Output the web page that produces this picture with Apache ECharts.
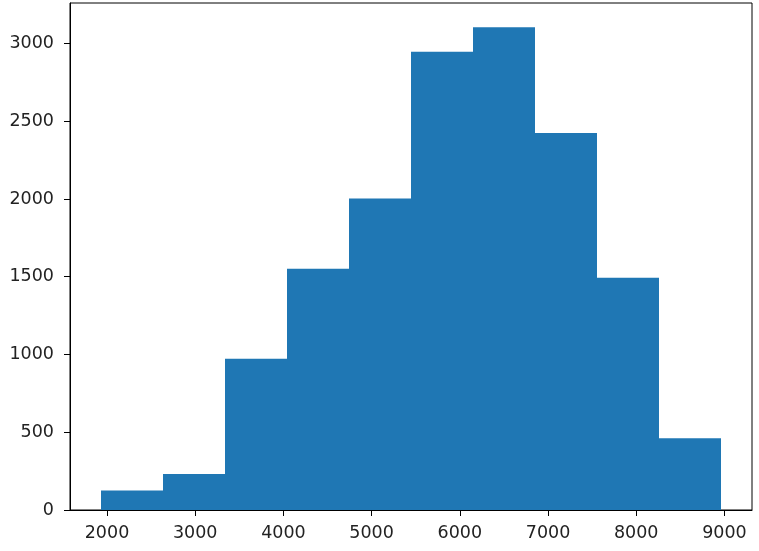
<!DOCTYPE html>
<html>
<head>
<meta charset="utf-8">
<script src="https://cdn.jsdelivr.net/npm/echarts@6/dist/echarts.min.js"></script>
<style>
  html, body { margin: 0; padding: 0; background: #fff; }
  #chart { width: 759px; height: 551px; }
</style>
</head>
<body>
<div id="chart"></div>
<script>
// histogram bin edges (10 bins) and counts
const binEdges = [1932, 2635, 3338, 4041, 4744, 5447, 6150, 6853, 7555, 8258, 8961];
const counts = [125, 232, 972, 1552, 2003, 2946, 3105, 2425, 1494, 462];
const xTicks = [2000, 3000, 4000, 5000, 6000, 7000, 8000, 9000];
const yTicks = [0, 500, 1000, 1500, 2000, 2500, 3000];

const bins = counts.map((c, i) => [binEdges[i], binEdges[i + 1], c]);

// matplotlib-style margins: 5% on x, 5% on top of y
const span = binEdges[binEdges.length - 1] - binEdges[0];
const xMin = binEdges[0] - span * 0.05;
const xMax = binEdges[binEdges.length - 1] + span * 0.05;
const yMax = Math.max(...counts) * 1.05;

const font = "DejaVu Sans";
const plain = (v) => String(Math.round(v));

const chart = echarts.init(document.getElementById("chart"));
chart.setOption({
  animation: false,
  grid: {
    left: 70,
    top: 3,
    right: 7,
    bottom: 41,
    show: true,
    borderColor: "#000",
    borderWidth: 1,
    backgroundColor: "transparent",
  },
  xAxis: {
    type: "value",
    min: xMin,
    max: xMax,
    splitLine: { show: false },
    axisLine: { show: true, lineStyle: { color: "#000", width: 1 } },
    axisTick: {
      show: true,
      length: 6,
      lineStyle: { color: "#000" },
      customValues: xTicks,
    },
    axisLabel: {
      customValues: xTicks,
      formatter: plain,
      margin: 14,
      color: "#222",
      fontFamily: font,
      fontSize: 17.5,
    },
  },
  yAxis: {
    type: "value",
    min: 0,
    max: yMax,
    splitLine: { show: false },
    axisLine: { show: true, lineStyle: { color: "#000", width: 1 } },
    axisTick: {
      show: true,
      length: 6,
      lineStyle: { color: "#000" },
      customValues: yTicks,
    },
    axisLabel: {
      customValues: yTicks,
      formatter: plain,
      margin: 16,
      color: "#222",
      fontFamily: font,
      fontSize: 17.5,
    },
  },
  series: [
    {
      type: "custom",
      data: bins,
      encode: { x: [0, 1], y: 2 },
      renderItem: (params, api) => {
        const p0 = api.coord([api.value(0), 0]);
        const p1 = api.coord([api.value(1), api.value(2)]);
        const x0 = Math.round(p0[0]);
        const x1 = Math.round(p1[0]);
        return {
          type: "rect",
          shape: {
            x: x0,
            y: p1[1],
            width: x1 - x0,
            height: p0[1] - p1[1],
          },
          style: { fill: "#1f77b4" },
        };
      },
    },
  ],
});
</script>
</body>
</html>
